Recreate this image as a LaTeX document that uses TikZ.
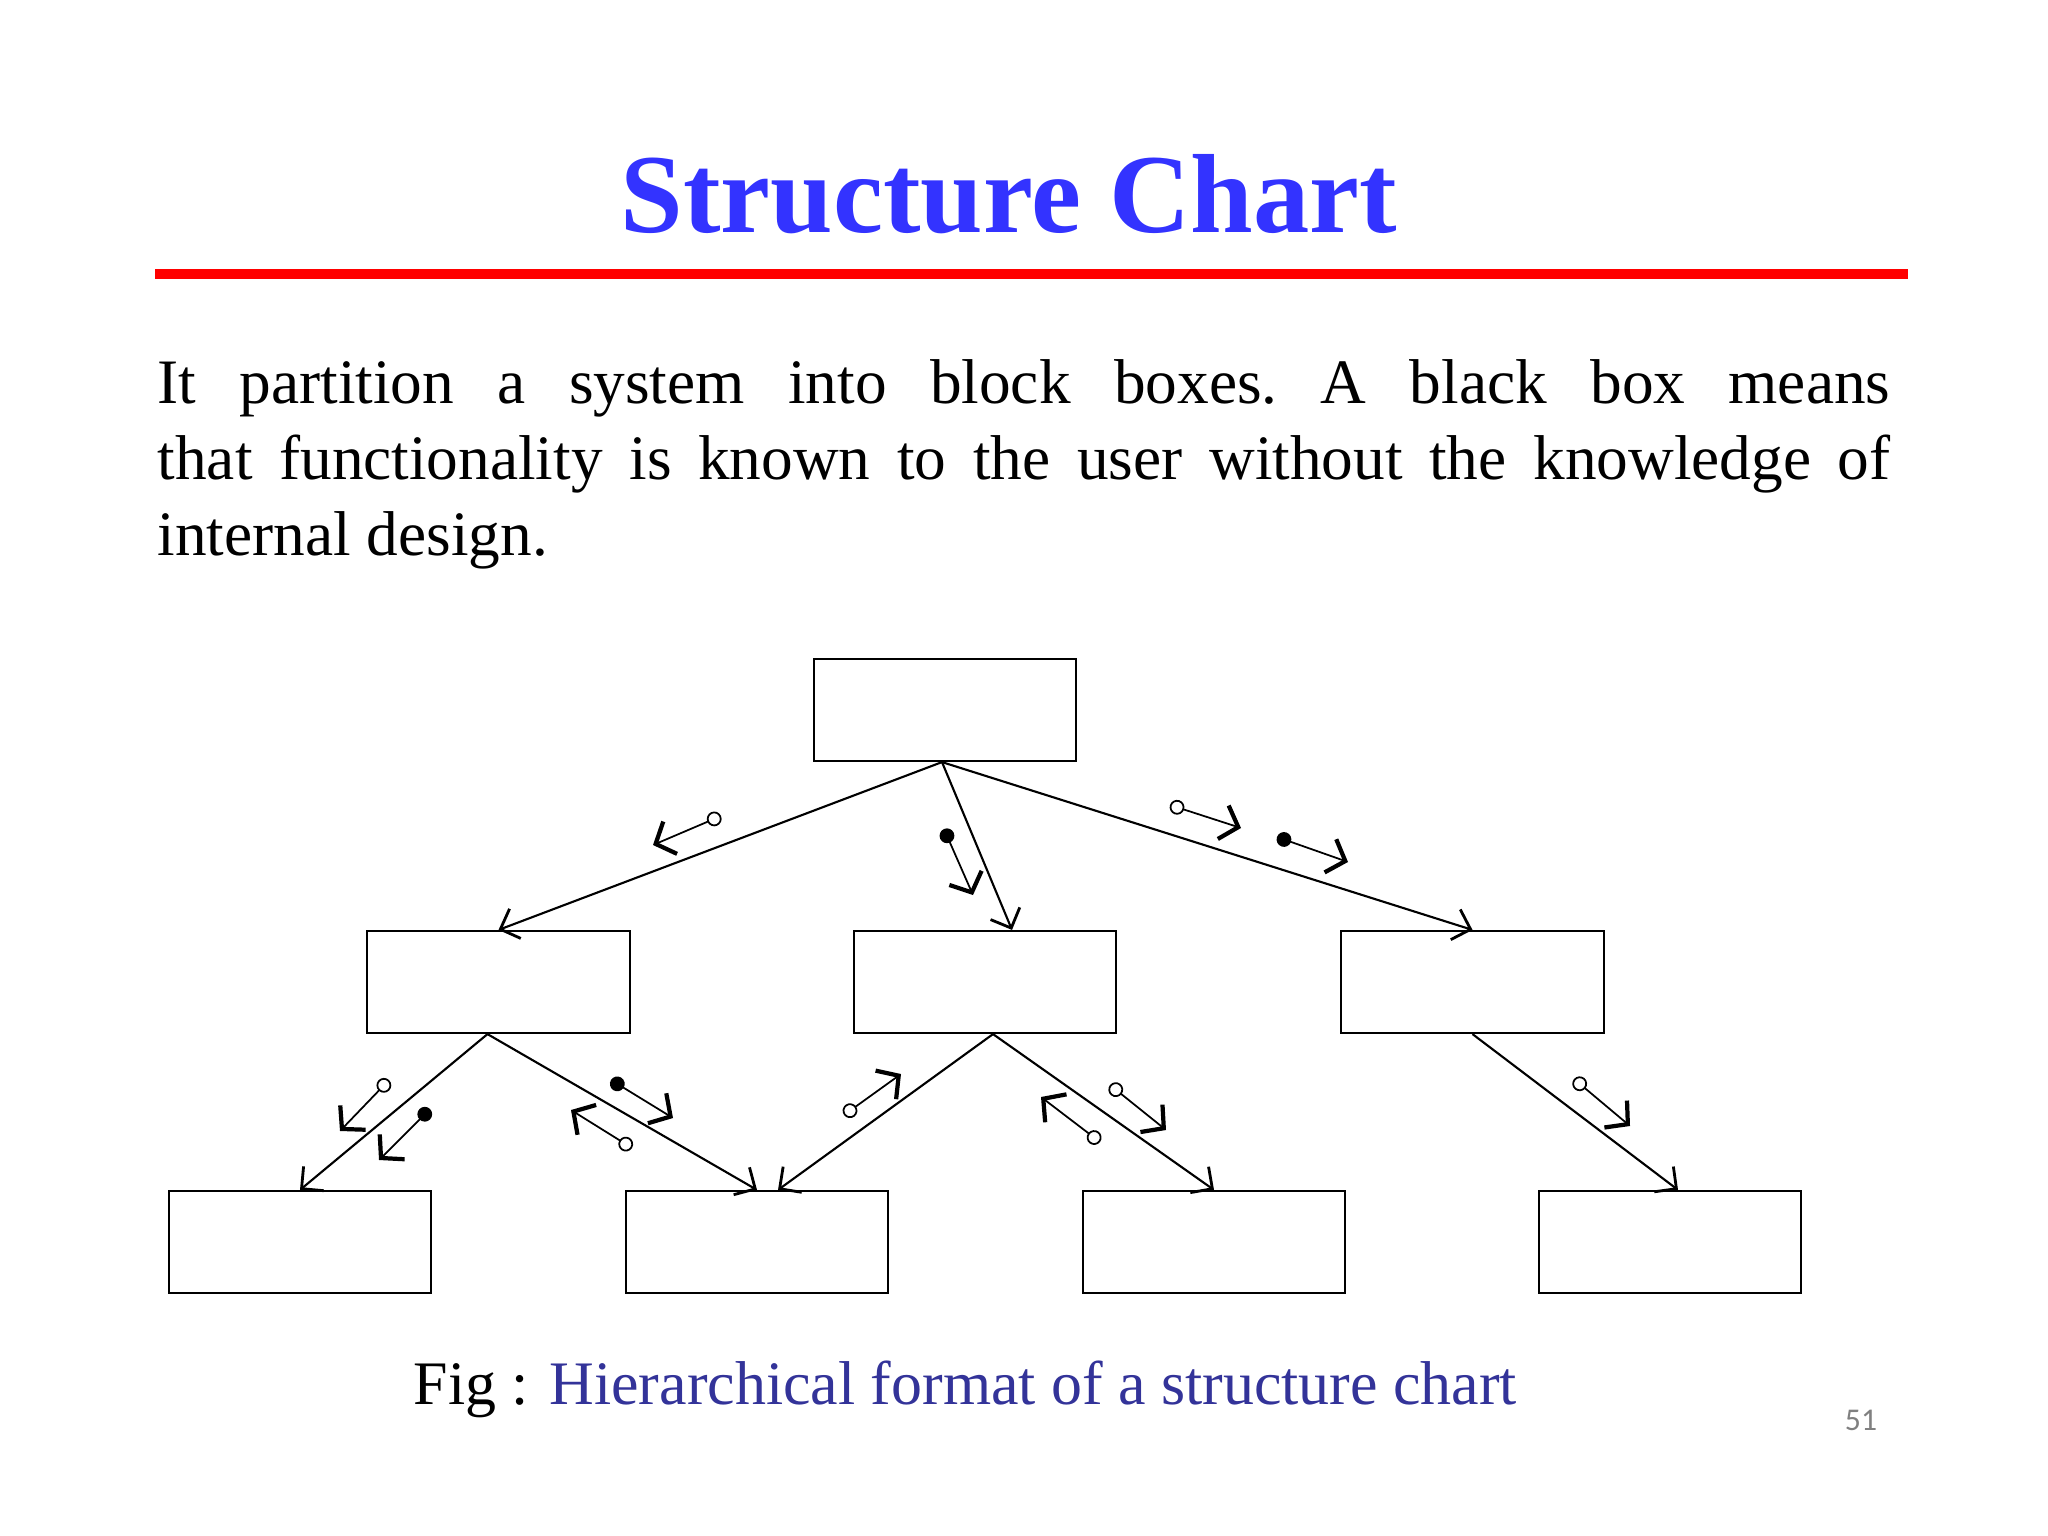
\documentclass[tikz,border=0pt]{standalone}
\usepackage{fontspec}
\setmainfont{Liberation Serif}
\newfontfamily\pagefont{Carlito}
\usetikzlibrary{arrows.meta}

\definecolor{titleblue}{RGB}{51,51,255}
\definecolor{capblue}{RGB}{51,51,153}
\definecolor{rulered}{RGB}{255,0,0}

\tikzset{
  module/.style={draw,line width=0.6pt,minimum width=2.62cm,minimum height=1.02cm,inner sep=0pt},
  call/.style={line width=0.6pt,-{Straight Barb[length=4.5pt,width=9pt,line width=0.8pt]}},
  dataflag/.style={line width=0.5pt,{Circle[open,length=4.2pt,width=4.2pt,line width=0.5pt]}-{Straight Barb[length=4.5pt,width=10pt,line width=1.2pt]}},
  ctrlflag/.style={line width=0.5pt,{Circle[length=4.2pt,width=4.2pt]}-{Straight Barb[length=4.5pt,width=10pt,line width=1.2pt]}}
}

% one data or control couple: name, style, tail, head
\newcommand\dcpl[4]{%
  \coordinate (#1t) at (#3);
  \coordinate (#1h) at (#4);
  \draw[#2] (#1t) -- (#1h);}

\begin{document}
\begin{tikzpicture}[x=0.01cm,y=-0.01cm]
  \useasboundingbox (0,0) rectangle (2048,1536);

% heading
  \node[anchor=base,text=titleblue,font=\fontsize{32}{38}\selectfont\bfseries] (title) at (1009,232) {Structure Chart};
  \draw[rulered,line width=2.6pt] (155,274) -- (1908,274);

  \node[anchor=north west,inner sep=0pt,text width=492.7pt,align=justify,
        font=\fontsize{18}{21.6}\selectfont] (intro) at (157,359)
    {\hyphenpenalty=10000\relax\frenchspacing
     It partition a system into block boxes. A black box means\linebreak
     that functionality is known to the user without the knowledge of\linebreak
     internal design.};

% modules
  \node[module] (main)  at (945,710)   {};
  \node[module] (left)  at (498.5,982) {};
  \node[module] (mid)   at (985,982)   {};
  \node[module] (right) at (1472.5,982){};
  \node[module] (leafa) at (300,1242)  {};
  \node[module] (leafb) at (757,1242)  {};
  \node[module] (leafc) at (1214,1242) {};
  \node[module] (leafd) at (1670,1242) {};

% calls
  \draw[call] ([xshift=-0.03cm]main.south) -- (left.north);
  \draw[call] ([xshift=-0.03cm]main.south) -- ([xshift=0.27cm]mid.north);
  \draw[call] ([xshift=-0.03cm]main.south) -- (right.north);
  \draw[call] ([xshift=-0.11cm]left.south) -- (leafa.north);
  \draw[call] ([xshift=-0.11cm]left.south) -- (leafb.north);
  \draw[call] ([xshift=0.08cm]mid.south)  -- ([xshift=0.21cm]leafb.north);
  \draw[call] ([xshift=0.08cm]mid.south)  -- (leafc.north);
  \draw[call] (right.south) -- ([xshift=0.08cm]leafd.north);

% couples
  \dcpl{ka}{dataflag}{721,816}{653,845}
  \dcpl{kb}{ctrlflag}{944,829}{973,895}
  \dcpl{kc}{dataflag}{1170,805}{1241,828}
  \dcpl{kd}{ctrlflag}{1277,837}{1348,862}
  \dcpl{ke}{dataflag}{389,1080}{340,1131}
  \dcpl{kf}{ctrlflag}{430,1109}{379,1160}
  \dcpl{kg}{ctrlflag}{611,1080}{673,1118}
  \dcpl{kh}{dataflag}{632,1148}{571,1110}
  \dcpl{ki}{dataflag}{844,1115}{901,1074}
  \dcpl{kj}{dataflag}{1110,1085}{1166,1130}
  \dcpl{kk}{dataflag}{1100,1142}{1041,1097}
  \dcpl{kl}{dataflag}{1574,1079}{1630,1126}

% caption and page number
  \node[anchor=base west,inner sep=0pt,font=\fontsize{17.6}{21}\selectfont] (caption) at (413,1404)
    {Fig : \textcolor{capblue}{Hierarchical format of a structure chart}};
  \node[text=gray,font=\pagefont\fontsize{9}{11}\selectfont] (pageno) at (1861,1420) {51};
\end{tikzpicture}
\end{document}
